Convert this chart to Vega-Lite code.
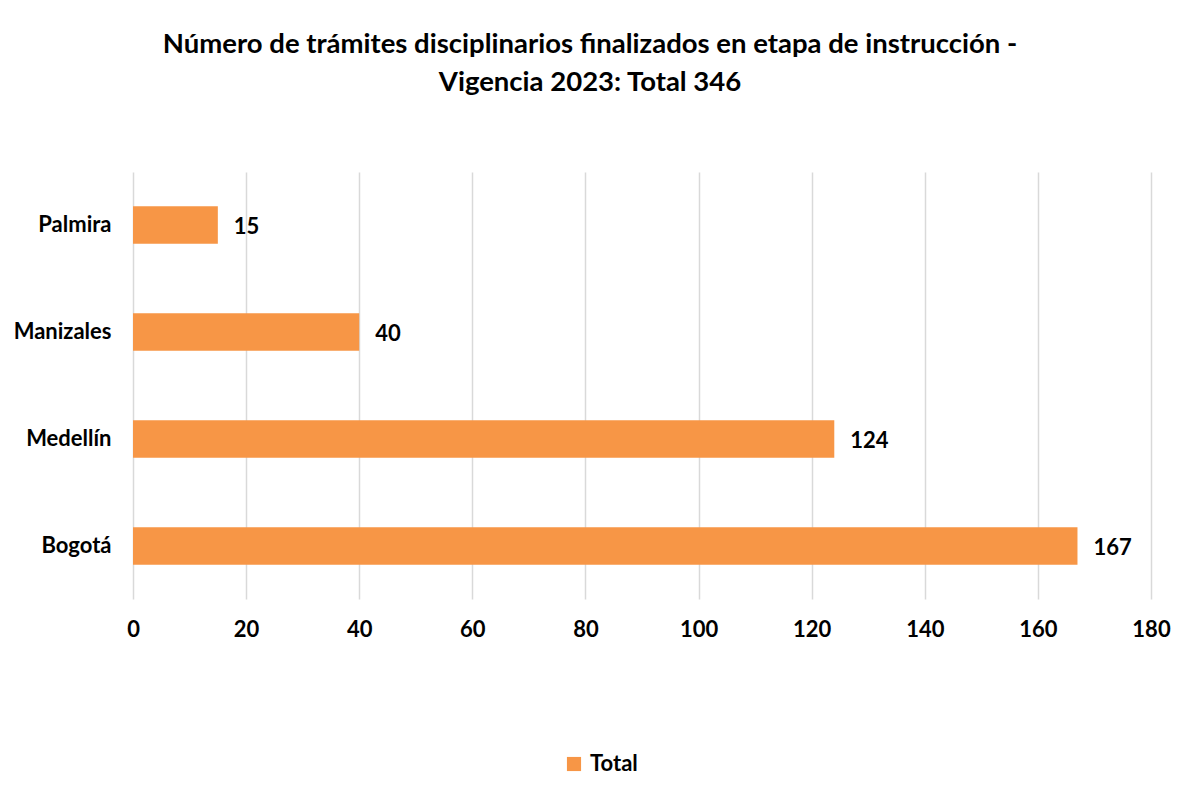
{
  "$schema": "https://vega.github.io/schema/vega-lite/v6.json",
  "autosize": {"type": "none"},
  "width": 1018,
  "height": 427,
  "padding": {"left": 133, "top": 172, "right": 28, "bottom": 200},
  "background": "white",
  "title": {
    "text": ["Número de trámites disciplinarios finalizados en etapa de instrucción -", "Vigencia 2023: Total 346"],
    "font": "Lato",
    "fontSize": 27.5,
    "fontWeight": "bold",
    "color": "#000000",
    "anchor": "middle",
    "dx": -52,
    "offset": 76,
    "lineHeight": 38
  },
  "data": {
    "values": [
      {"sede": "Palmira", "valor": 15, "serie": "Total"},
      {"sede": "Manizales", "valor": 40, "serie": "Total"},
      {"sede": "Medellín", "valor": 124, "serie": "Total"},
      {"sede": "Bogotá", "valor": 167, "serie": "Total"}
    ]
  },
  "encoding": {
    "y": {
      "field": "sede",
      "type": "nominal",
      "sort": ["Palmira", "Manizales", "Medellín", "Bogotá"],
      "scale": {"paddingInner": 0.65, "paddingOuter": 0.32},
      "axis": {
        "title": null,
        "domain": false,
        "ticks": false,
        "grid": false,
        "labelFont": "Lato",
        "labelFontSize": 22,
        "labelFontWeight": "bold",
        "labelColor": "#000000",
        "labelPadding": 22
      }
    },
    "x": {
      "field": "valor",
      "type": "quantitative",
      "scale": {"domain": [0, 180], "nice": false},
      "axis": {
        "title": null,
        "values": [0, 20, 40, 60, 80, 100, 120, 140, 160, 180],
        "domain": false,
        "ticks": false,
        "grid": true,
        "gridColor": "#d9d9d9",
        "gridWidth": 1.5,
        "labelFlush": false,
        "labelFont": "Lato",
        "labelFontSize": 22,
        "labelFontWeight": "bold",
        "labelColor": "#000000",
        "labelPadding": 20
      }
    }
  },
  "layer": [
    {
      "mark": {"type": "bar", "color": "#F79646"},
      "encoding": {
        "color": {
          "field": "serie",
          "type": "nominal",
          "scale": {"range": ["#F79646"]},
          "legend": {
            "title": null,
            "orient": "none",
            "legendX": 430,
            "legendY": 581,
            "symbolType": "square",
            "symbolSize": 200,
            "symbolStrokeWidth": 0,
            "labelFont": "Lato",
            "labelFontSize": 22,
            "labelFontWeight": "bold",
            "labelColor": "#000000",
            "labelOffset": 5
          }
        }
      }
    },
    {
      "mark": {"type": "text", "align": "left", "baseline": "middle", "dx": 16, "dy": 2, "font": "Lato", "fontSize": 22, "fontWeight": "bold", "color": "#000000"},
      "encoding": {"text": {"field": "valor", "type": "quantitative"}}
    }
  ],
  "config": {"view": {"stroke": null}}
}
